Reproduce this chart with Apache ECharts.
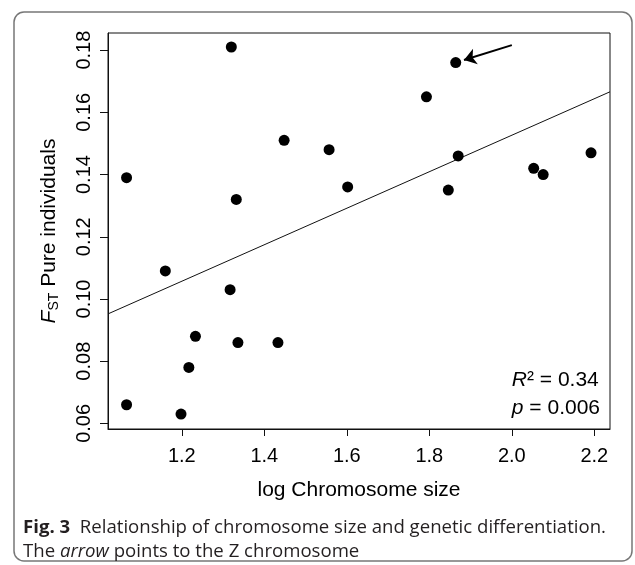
<!DOCTYPE html>
<html>
<head>
<meta charset="utf-8">
<script src="https://cdn.jsdelivr.net/npm/echarts@6/dist/echarts.min.js"></script>
<style>
  html, body { margin: 0; padding: 0; background: #fff; }
  #chart { width: 635px; height: 565px; }
</style>
</head>
<body>
<div id="chart"></div>
<script>
// chromosome data
var logSize = [1.066, 1.320, 1.448, 1.332, 1.864, 1.793, 1.557, 1.870, 1.602, 1.846, 2.053,
               2.076, 2.192, 1.160, 1.317, 1.233, 1.336, 1.433, 1.217, 1.066, 1.198];
var fst     = [0.139, 0.181, 0.151, 0.132, 0.176, 0.165, 0.148, 0.146, 0.136, 0.135, 0.142,
               0.140, 0.147, 0.109, 0.103, 0.088, 0.086, 0.086, 0.078, 0.066, 0.063];

// fitted regression line (ends at the plot edges)
var fitX = [1.021, 2.238];
var fitY = [0.0952, 0.1666];

// arrow pointing at the Z chromosome: tail, head
var arrowFrom = [2.0, 0.1816];
var arrowTo   = [1.884, 0.1768];

var xTicks = [1.2, 1.4, 1.6, 1.8, 2.0, 2.2];
var yTicks = [0.06, 0.08, 0.10, 0.12, 0.14, 0.16, 0.18];

var points = logSize.map(function (x, i) { return [x, fst[i]]; });
var fitLine = fitX.map(function (x, i) { return [x, fitY[i]]; });

var chart = echarts.init(document.getElementById('chart'), null, {renderer: 'canvas'});
var font = 'Liberation Sans, Arial, sans-serif';

var option = {
    animation: false,
    backgroundColor: '#fff',
    grid: {
        left: 108, right: 25, top: 33, bottom: 136,
        show: true, borderColor: '#111', borderWidth: 1
    },
    xAxis: {
        type: 'value',
        min: 1.021, max: 2.238,
        name: 'log Chromosome size',
        nameLocation: 'middle',
        nameGap: 51,
        nameTextStyle: {fontFamily: font, fontSize: 21, color: '#000'},
        axisLine: {show: true, lineStyle: {color: '#111', width: 1}},
        axisTick: {show: true, length: 7, customValues: xTicks, lineStyle: {color: '#111'}},
        axisLabel: {
            customValues: xTicks, margin: 17,
            fontFamily: font, fontSize: 20, color: '#000',
            formatter: function (v) { return v.toFixed(1); }
        },
        splitLine: {show: false}
    },
    yAxis: {
        type: 'value',
        min: 0.0582, max: 0.1855,
        name: '{f|F}{sub|ST} Pure individuals',
        nameLocation: 'middle',
        nameRotate: 90,
        nameGap: 47,
        nameTextStyle: {
            fontFamily: font, fontSize: 21, color: '#000',
            rich: {
                f: {fontFamily: font, fontSize: 21, fontStyle: 'italic', color: '#000'},
                sub: {fontFamily: font, fontSize: 14, color: '#000', padding: [10, 0, 0, 0]}
            }
        },
        axisLine: {show: true, lineStyle: {color: '#111', width: 1}},
        axisTick: {show: true, length: 8, customValues: yTicks, lineStyle: {color: '#111'}},
        axisLabel: {
            customValues: yTicks, margin: 14, rotate: 90,
            fontFamily: font, fontSize: 20, color: '#000',
            formatter: function (v) { return v.toFixed(2); }
        },
        splitLine: {show: false}
    },
    series: [
        {
            type: 'line',
            data: fitLine,
            showSymbol: false,
            symbol: 'none',
            lineStyle: {color: '#111', width: 1},
            silent: true,
            z: 1
        },
        {
            type: 'scatter',
            data: points,
            symbol: 'circle',
            symbolSize: 11,
            itemStyle: {color: '#000', opacity: 1},
            z: 3,
            markLine: {
                silent: true,
                symbol: ['none', 'arrow'],
                symbolSize: 12,
                label: {show: false},
                lineStyle: {color: '#000', width: 2, type: 'solid', opacity: 1},
                data: [[{coord: arrowFrom}, {coord: arrowTo}]]
            }
        }
    ],
    graphic: [
        {
            type: 'rect',
            shape: {x: 14, y: 12, width: 618, height: 549, r: 10},
            style: {fill: 'none', stroke: '#777', lineWidth: 1.5},
            z: -1,
            silent: true
        },
        {
            type: 'text',
            right: 35, top: 366,
            style: {
                text: '{i|R}² = 0.34\n{i|p} = 0.006',
                align: 'right',
                font: '21px ' + font,
                fill: '#000',
                lineHeight: 28,
                rich: {
                    i: {fontFamily: font, fontSize: 21, fontStyle: 'italic', fill: '#000', lineHeight: 28}
                }
            }
        },
        {
            type: 'text',
            left: 23, top: 516,
            style: {
                text: '{b|Fig. 3}  Relationship of chromosome size and genetic differentiation.\nThe {i|arrow} points to the Z chromosome',
                font: '18.6px "Open Sans", sans-serif',
                fill: '#231f20',
                lineHeight: 24,
                rich: {
                    b: {fontFamily: 'Open Sans', fontSize: 18.6, fontWeight: 'bold', fill: '#231f20', lineHeight: 24},
                    i: {fontFamily: 'Open Sans', fontSize: 18.6, fontStyle: 'italic', fill: '#231f20', lineHeight: 24}
                }
            }
        }
    ]
};
chart.setOption(option);
</script>
</body>
</html>
